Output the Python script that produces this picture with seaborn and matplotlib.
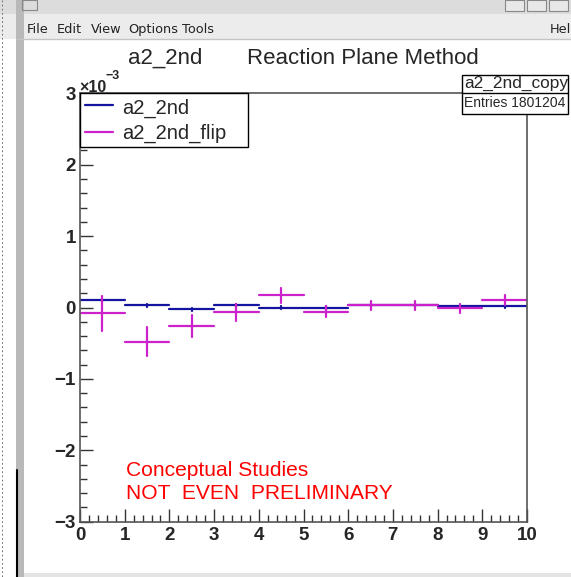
import numpy as np
import pandas as pd
import matplotlib
matplotlib.use("Agg")
import matplotlib.pyplot as plt
from matplotlib.patches import Rectangle
from matplotlib.lines import Line2D
import seaborn as sns

# ---------------- data (values in units of 1e-3) ----------------
bin_edges = [0, 1, 2, 3, 4, 5, 6, 7, 8, 9, 10]
a2_2nd = [0.10, 0.03, -0.025, 0.03, 0.0, 0.0, 0.03, 0.03, 0.02, 0.02]
a2_2nd_err = [0.02, 0.02, 0.02, 0.02, 0.02, 0.02, 0.02, 0.02, 0.02, 0.02]
a2_2nd_flip = [-0.08, -0.48, -0.26, -0.07, 0.175, -0.06, 0.03, 0.03, -0.01, 0.105]
a2_2nd_flip_err = [0.245, 0.20, 0.15, 0.12, 0.105, 0.08, 0.065, 0.06, 0.065, 0.065]
series_names = ["a2_2nd", "a2_2nd_flip"]
series_colors = ["#1414a0", "#cc22cc"]
x_ticks = [0, 1, 2, 3, 4, 5, 6, 7, 8, 9, 10]
y_ticks = [-3, -2, -1, 0, 1, 2, 3]
title_left = "a2_2nd"
title_right = "Reaction Plane Method"
stats_name = "a2_2nd_copy"
stats_entries = "Entries 1801204"
note_lines = ["Conceptual Studies", "NOT  EVEN  PRELIMINARY"]
menu_items = ["File", "Edit", "View", "Options", "Tools"]

# ---------------- long-form table of histogram segments ----------------
rows = []
for name, vals, errs in [(series_names[0], a2_2nd, a2_2nd_err),
                         (series_names[1], a2_2nd_flip, a2_2nd_flip_err)]:
    for i, (v, e) in enumerate(zip(vals, errs)):
        lo, hi = bin_edges[i], bin_edges[i + 1]
        c = 0.5 * (lo + hi)
        rows += [dict(series=name, seg=f"h{i}", x=lo, y=v),
                 dict(series=name, seg=f"h{i}", x=hi, y=v),
                 dict(series=name, seg=f"v{i}", x=c, y=v - e),
                 dict(series=name, seg=f"v{i}", x=c, y=v + e)]
df = pd.DataFrame(rows)

sns.set_style("ticks")
plt.rcParams["font.family"] = ["Liberation Sans", "DejaVu Sans"]

W, H = 571, 577
fig = plt.figure(figsize=(W / 100, H / 100), dpi=100)
fig.patch.set_facecolor("white")


def fx(x):
    return x / W


def fy(y):
    return 1 - y / H


def frect(x0, y0, x1, y1, **kw):
    r = Rectangle((fx(x0), fy(y1)), fx(x1) - fx(x0), fy(y0) - fy(y1),
                  transform=fig.transFigure, **kw)
    fig.add_artist(r)
    return r


def fline(xs, ys, **kw):
    l = Line2D([fx(x) for x in xs], [fy(y) for y in ys], transform=fig.transFigure, **kw)
    fig.add_artist(l)
    return l


# ---------------- window chrome ----------------
frect(0, 0, W, 14, facecolor="#dcdcdc", edgecolor="none", zorder=0)
frect(0, 14, W, 39, facecolor="#ececec", edgecolor="none", zorder=0)
fline([17, W], [39, 39], color="#c4c4c4", lw=1, zorder=1)
frect(22, 0, 37, 10, facecolor="none", edgecolor="#888888", lw=0.8, zorder=1)
for bx in (505, 527, 549):
    frect(bx, 0, bx + 19, 11, facecolor="#e8e8e8", edgecolor="#888888", lw=0.8, zorder=1)
frect(16, 0, 24, H, facecolor="#b9b9b9", edgecolor="none", zorder=0)
fline([17, 17], [470, H], color="black", lw=1.5, zorder=1)
fline([2, 2], [0, H], color="#555555", lw=0.6, ls=(0, (2, 3)), zorder=1)
frect(24, 573, W, H, facecolor="#e4e4e4", edgecolor="none", zorder=0)
menu_x = [27, 57, 91, 128, 182]
for t, mx in zip(menu_items, menu_x):
    fig.text(fx(mx), fy(33), t, fontsize=9.3, family="DejaVu Sans", color="#222222",
             ha="left", va="baseline")
fig.text(fx(550), fy(33), "Hel", fontsize=9.3, family="DejaVu Sans", color="#222222",
         ha="left", va="baseline")

# ---------------- axes ----------------
ax = fig.add_axes([fx(80), fy(521.7), fx(527) - fx(80), fy(93.3) - fy(521.7)])
ax.set_facecolor("white")
sns.lineplot(data=df, x="x", y="y", hue="series", units="seg", estimator=None,
             sort=False, hue_order=series_names, palette=series_colors,
             linewidth=1.6, legend=False, ax=ax)
ax.set_xlim(0, 10)
ax.set_ylim(-3, 3)
ax.set_xlabel("")
ax.set_ylabel("")
ax.set_xticks(x_ticks)
ax.set_yticks(y_ticks)
ax.set_xticklabels([str(t) for t in x_ticks])
ax.set_yticklabels([str(t).replace("-", "\u2212") for t in y_ticks])
ax.xaxis.set_minor_locator(matplotlib.ticker.MultipleLocator(0.2))
ax.yaxis.set_minor_locator(matplotlib.ticker.MultipleLocator(0.2))
ax.tick_params(axis="both", which="major", direction="in", length=9.5, width=1,
               color="#333333", labelsize=13.5, top=False, right=False)
ax.tick_params(axis="both", which="minor", direction="in", length=4.8, width=1,
               color="#333333", top=False, right=False)
ax.tick_params(axis="x", which="major", pad=3.5)
ax.tick_params(axis="y", which="major", pad=3)
for lab in ax.get_xticklabels() + ax.get_yticklabels():
    lab.set_fontweight("bold")
for sp in ax.spines.values():
    sp.set_visible(True)
    sp.set_color("#555555")
    sp.set_linewidth(1.2)

# exponent label
fig.text(fx(79), fy(91.5), "\u00d710", fontsize=11.5, fontweight="bold",
         ha="left", va="baseline")
fig.text(fx(105), fy(79.5), "\u22123", fontsize=9, fontweight="bold",
         ha="left", va="baseline")

# titles
fig.text(fx(128), fy(64), title_left, fontsize=16, ha="left", va="baseline")
fig.text(fx(247), fy(64), title_right, fontsize=16, ha="left", va="baseline")

# legend box
frect(80, 93.3, 248, 147, facecolor="white", edgecolor="black", lw=1.0, zorder=5)
for name, col, ly, tb in zip(series_names, series_colors, [105, 131.5], [113.3, 138.3]):
    fline([85, 113], [ly, ly], color=col, lw=1.6, zorder=6)
    fig.text(fx(122), fy(tb), name, fontsize=14.5, ha="left", va="baseline", zorder=6)

# stats box
frect(462, 75, 568, 114, facecolor="white", edgecolor="black", lw=1.0, zorder=5)
fline([462, 568], [93.3, 93.3], color="black", lw=1.0, zorder=6)
fig.text(fx(464), fy(88), stats_name, fontsize=12.4, ha="left", va="baseline", zorder=6)
fig.text(fx(464), fy(106.7), stats_entries, fontsize=10, ha="left", va="baseline", zorder=6)

# red annotation
fig.text(fx(126), fy(475.7), note_lines[0], fontsize=15.1, color="red",
         ha="left", va="baseline")
fig.text(fx(126), fy(499), note_lines[1], fontsize=15.1, color="red",
         ha="left", va="baseline")

fig.savefig("out.png", dpi=100)
